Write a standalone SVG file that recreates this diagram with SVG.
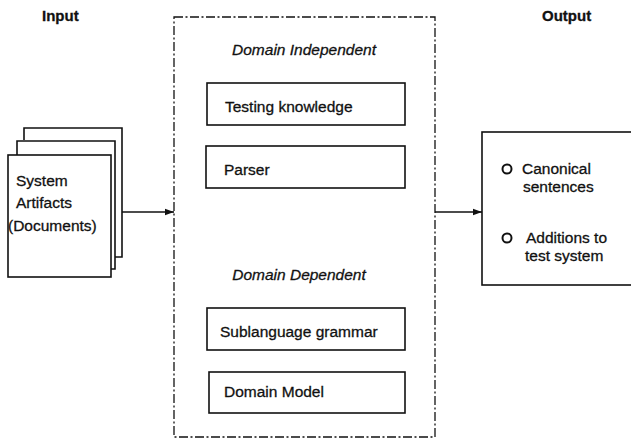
<svg xmlns="http://www.w3.org/2000/svg" width="631" height="440" viewBox="0 0 631 440">
<style>
text{font-family:"Liberation Sans",Arial,sans-serif;fill:#111;stroke:#111;stroke-width:0.3}
.t{font-size:15.5px}
.h{font-size:15px;font-weight:bold}
.i{font-size:15.5px;font-style:italic}
.box{fill:#fff;stroke:#111;stroke-width:1.6}
.pg{fill:none;stroke:#111;stroke-width:1.6}
.dash{fill:none;stroke:#111;stroke-width:1.3;stroke-dasharray:9,2.5,2,2.5}
.conn{fill:none;stroke:#111;stroke-width:1.5}
</style>
<defs>
<marker id="ah" markerWidth="10" markerHeight="8" refX="9" refY="4" orient="auto" markerUnits="userSpaceOnUse">
<path d="M0,0.8 L9,4 L0,7.2 Z" fill="#111"/>
</marker>
</defs>
<text class="h" x="42" y="21">Input</text>
<text class="h" x="542" y="21">Output</text>
<g id="documents">
<path class="pg" d="M24,140 V128 H122 V257 H115"/>
<path class="pg" d="M17,155 V141 H115 V269 H111"/>
<rect class="box" x="8" y="155" width="103" height="122"/>
<text class="t" x="16" y="186" font-size="16">System</text>
<text class="t" x="16" y="208" font-size="16">Artifacts</text>
<text class="t" x="8" y="231" font-size="16.5">(Documents)</text>
</g>
<g id="system">
<rect class="dash" x="174" y="17" width="261" height="420"/>
<text class="i" x="304" y="55" text-anchor="middle">Domain Independent</text>
<text class="i" x="299" y="280" text-anchor="middle">Domain Dependent</text>
</g>
<g id="testing-knowledge">
<rect class="box" x="207" y="83" width="198" height="42"/>
<text class="t" x="225" y="112">Testing knowledge</text>
</g>
<g id="parser">
<rect class="box" x="206" y="146" width="199" height="42"/>
<text class="t" x="224" y="175">Parser</text>
</g>
<g id="sublanguage-grammar">
<rect class="box" x="207" y="308" width="198" height="42"/>
<text class="t" x="220" y="337">Sublanguage grammar</text>
</g>
<g id="domain-model">
<rect class="box" x="209" y="372" width="196" height="41"/>
<text class="t" x="224" y="397">Domain Model</text>
</g>
<g id="output">
<rect class="box" x="482" y="132" width="160" height="153"/>
<circle cx="507" cy="169" r="4.5" fill="none" stroke="#111" stroke-width="2"/>
<text class="t" x="522" y="174">Canonical</text>
<text class="t" x="523" y="192">sentences</text>
<circle cx="507" cy="238" r="4.5" fill="none" stroke="#111" stroke-width="2"/>
<text class="t" x="526" y="243">Additions to</text>
<text class="t" x="525" y="261">test system</text>
</g>
<g id="connectors">
<line class="conn" x1="122" y1="212" x2="174" y2="212" marker-end="url(#ah)"/>
<line class="conn" x1="435" y1="212" x2="482" y2="212" marker-end="url(#ah)"/>
</g>
</svg>
